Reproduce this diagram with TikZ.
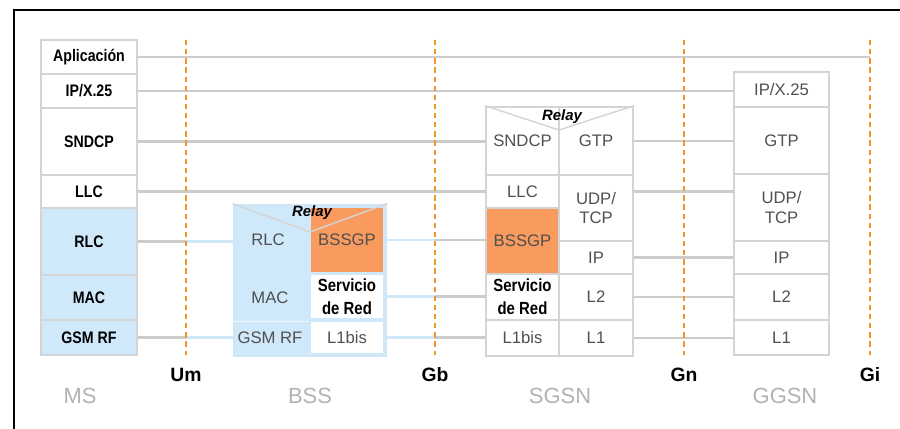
\documentclass[tikz,border=0pt]{standalone}
\usepackage{fontspec}
\setmainfont{Liberation Sans}
\definecolor{gris}{RGB}{212,212,212}
\definecolor{grisl}{RGB}{204,204,204}
\definecolor{azul}{RGB}{207,233,250}
\definecolor{naranja}{RGB}{249,154,94}
\definecolor{interf}{RGB}{247,146,45}
\definecolor{texto}{RGB}{80,80,80}
\definecolor{gristit}{RGB}{178,178,178}
\newcommand{\negrita}[1]{\scalebox{0.85}[1]{\bfseries #1}}
\begin{document}
\begin{tikzpicture}[x=0.02cm,y=-0.02cm,
	caja/.style 2 args={draw=gris,line width=1.6pt,minimum width=#1*0.02cm,minimum height=#2*0.02cm,
		inner sep=0pt,font=\fontsize{9.5}{11}\selectfont,text=texto},
	enlace/.style={grisl,line width=1.3pt},
	enlaceazul/.style={azul,line width=1.3pt},
	interfaz/.style={interf,line width=1.3pt,dash pattern=on 3pt off 2.2pt},
	etiq/.style={font=\fontsize{11}{13}\selectfont\bfseries},
	equipo/.style={font=\fontsize{12.5}{14}\selectfont,text=gristit},
	relay/.style={font=\fontsize{8.5}{9}\selectfont\bfseries\itshape,inner sep=0pt}]
	\useasboundingbox (0,0) rectangle (900,429);
	\draw[line width=1pt] (14,429)--(14,10)--(900,10);
	% MS
	\node[caja={96}{34},text=black] (msapp) at (89,57) {\negrita{Aplicación}};
	\node[caja={96}{34},text=black] (msip) at (89,91) {\negrita{IP/X.25}};
	\node[caja={96}{67},text=black] (mssndcp) at (89,141.5) {\negrita{SNDCP}};
	\node[caja={96}{33},text=black] (msllc) at (89,191.5) {\negrita{LLC}};
	\node[caja={96}{67},fill=azul,text=black] (msrlc) at (89,241.5) {\negrita{RLC}};
	\node[caja={96}{45},fill=azul,text=black] (msmac) at (89,297.5) {\negrita{MAC}};
	\node[caja={96}{35},fill=azul,text=black] (msrf) at (89,337.5) {\negrita{GSM RF}};
	% BSS
	\node[caja={152}{151},fill=azul,draw=azul!85!gris] (bss) at (310,280.5) {};
	\node[caja={76}{70},draw=none] (bssrlc) at (268,240) {RLC};
	\node[caja={76}{45},draw=none] (bssmac) at (270,297.5) {MAC};
	\node[caja={76}{36},draw=none] (bssrf) at (270,338) {GSM RF};
	\draw[white!60!azul,line width=1pt] (bss.west |- bssmac.south) -- (bssmac.south east);
	\node[caja={72}{64},fill=naranja,draw=none] (bssgp) at (347,240) {BSSGP};
	\node[caja={72}{43},fill=white,draw=none,align=center,text=black,font=\fontsize{10}{13}\selectfont] (bssserv) at (347,296.5) {\negrita{Servicio}\\\negrita{de Red}};
	\node[caja={72}{31},fill=white,draw=none] (bssl1) at (347,337.5) {L1bis};
	\coordinate (vbss) at (310,232);
	\draw[gris,line width=0.8pt] (bss.north west) -- (vbss) -- (bss.north east);
	\node[relay] (relbss) at (312,213) {Relay};
	% SGSN
	\node[caja={73}{68}] (sgsndcp) at (522.5,141) {SNDCP};
	\node[caja={73}{33}] (sgllc) at (522.5,191.5) {LLC};
	\node[caja={73}{66},fill=naranja] (sgbssgp) at (522.5,241) {BSSGP};
	\node[caja={73}{46},align=center,text=black,font=\fontsize{10}{13}\selectfont] (sgserv) at (522.5,297) {\negrita{Servicio}\\\negrita{de Red}};
	\node[caja={73}{36}] (sgl1bis) at (522.5,338) {L1bis};
	\node[caja={74}{68}] (sggtp) at (596,141) {GTP};
	\node[caja={74}{66},align=center] (sgudp) at (596,208) {UDP/\\TCP};
	\node[caja={74}{33}] (sgip) at (596,257.5) {IP};
	\node[caja={74}{46}] (sgl2) at (596,297) {L2};
	\node[caja={74}{36}] (sgl1) at (596,338) {L1};
	\coordinate (vsg) at (559,130);
	\draw[gris,line width=0.8pt] (sgsndcp.north west) -- (vsg) -- (sggtp.north east);
	\node[relay] (relsg) at (562,117) {Relay};
	% GGSN
	\node[caja={95}{35}] (ggip) at (781.5,89.5) {IP/X.25};
	\node[caja={95}{67}] (gggtp) at (781.5,140.5) {GTP};
	\node[caja={95}{67},align=center] (ggudp) at (781.5,207.5) {UDP/\\TCP};
	\node[caja={95}{33}] (ggip2) at (781.5,257.5) {IP};
	\node[caja={95}{46}] (ggl2) at (781.5,297) {L2};
	\node[caja={95}{35}] (ggl1) at (781.5,337.5) {L1};
	% interfaces
	\coordinate (um) at (186,40); \coordinate (umb) at (186,355);
	\coordinate (gb) at (435,40); \coordinate (gbb) at (435,355);
	\coordinate (gn) at (684,40); \coordinate (gnb) at (684,355);
	\coordinate (gi) at (870,40); \coordinate (gib) at (870,355);
	% enlaces entre capas
	\draw[enlace] (msapp.east) -- (msapp.east -| gi);
	\draw[enlace] (msip.east) -- (ggip.west |- msip.east);
	\draw[enlace] (mssndcp.east) -- (sgsndcp.west |- mssndcp.east);
	\draw[enlace] (msllc.east) -- (sgllc.west |- msllc.east);
	\draw[enlace] (msrlc.east) -- (um |- msrlc.east);
	\draw[enlaceazul] (um |- msrlc.east) -- (bss.west |- msrlc.east);
	\draw[enlace] (msrf.east) -- (um |- msrf.east);
	\draw[enlaceazul] (um |- msrf.east) -- (bss.west |- msrf.east);
	\draw[enlaceazul] (bss.east |- bssgp.east) -- (gb |- bssgp.east);
	\draw[enlace] (gb |- bssgp.east) -- (sgbssgp.west |- bssgp.east);
	\draw[enlaceazul] (bss.east |- bssserv.east) -- (gb |- bssserv.east);
	\draw[enlace] (gb |- bssserv.east) -- (sgserv.west |- bssserv.east);
	\draw[enlaceazul] (bss.east |- bssl1.east) -- (gb |- bssl1.east);
	\draw[enlace] (gb |- bssl1.east) -- (sgl1bis.west |- bssl1.east);
	\draw[enlace] (sggtp.east) -- (gggtp.west |- sggtp.east);
	\draw[enlace] (sgudp.east |- sgllc.east) -- (ggudp.west |- sgllc.east);
	\draw[enlace] (sgip.east) -- (ggip2.west |- sgip.east);
	\draw[enlace] (sgl2.east) -- (ggl2.west |- sgl2.east);
	\draw[enlace] (sgl1.east) -- (ggl1.west |- sgl1.east);
	% lineas de interfaz
	\draw[interfaz] (um) -- (umb);
	\draw[interfaz] (gb) -- (gbb);
	\draw[interfaz] (gn) -- (gnb);
	\draw[interfaz] (gi) -- (gib);
	\node[etiq] (lum) at (186,375) {Um};
	\node[etiq] (lgb) at (435,375) {Gb};
	\node[etiq] (lgn) at (684,375) {Gn};
	\node[etiq] (lgi) at (870,375) {Gi};
	\node[equipo] (lms) at (80,396) {MS};
	\node[equipo] (lbss) at (310,396) {BSS};
	\node[equipo] (lsgsn) at (560,396) {SGSN};
	\node[equipo] (lggsn) at (785,396) {GGSN};
\end{tikzpicture}
\end{document}
